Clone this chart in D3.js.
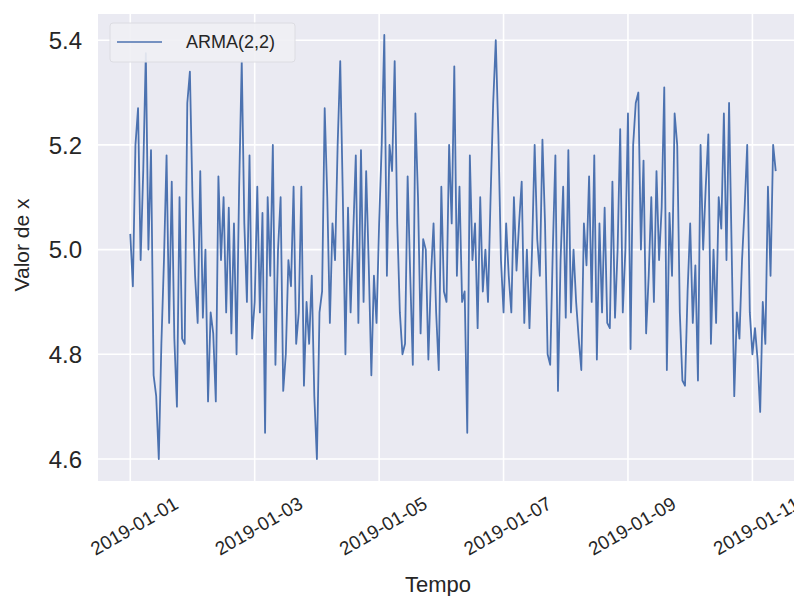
<!DOCTYPE html>
<html>
<head>
<meta charset="utf-8">
<script src="https://cdn.jsdelivr.net/npm/d3@7"></script>
<style>
    body { margin: 0; background: #ffffff; }
    text { font-family: "Liberation Sans", Arial, sans-serif; fill: #262626; }
</style>
</head>
<body>
<div class="chart"></div>
<script>
// hourly series, starting 2019-01-01 00:00
const startDate = "2019-01-01T00:00:00Z";
const seriesName = "ARMA(2,2)";
const values = [
    5.03, 4.93, 5.20, 5.27, 4.98, 5.15, 5.375, 5.00, 5.19, 4.76, 4.72, 4.60, 4.82, 4.98, 5.18, 4.86, 5.13, 4.83, 4.70, 5.10, 4.83, 4.82, 5.28, 5.34,
    5.10, 4.95, 4.86, 5.15, 4.87, 5.00, 4.71, 4.88, 4.84, 4.71, 5.14, 4.98, 5.10, 4.88, 5.08, 4.84, 5.05, 4.80, 5.12, 5.36, 5.05, 4.90, 5.18, 4.83,
    4.90, 5.12, 4.88, 5.07, 4.65, 5.10, 4.95, 5.20, 4.78, 5.00, 5.10, 4.73, 4.80, 4.98, 4.93, 5.12, 4.82, 4.88, 5.12, 4.74, 4.90, 4.82, 4.95, 4.72, 4.60,
    4.88, 4.92, 5.27, 5.10, 4.86, 5.05, 4.98, 5.20, 5.36, 5.10, 4.80, 5.08, 4.88, 5.03, 5.18, 4.86, 5.19, 4.90, 5.15, 4.97, 4.76, 4.95, 4.86, 5.05, 5.20,
    5.41, 4.95, 5.20, 5.15, 5.36, 5.05, 4.88, 4.80, 4.82, 5.14, 4.95, 4.78, 5.26, 5.10, 4.84, 5.02, 5.00, 4.79, 4.95, 5.05, 4.88, 4.77, 5.12, 4.92,
    4.90, 5.20, 5.05, 5.35, 4.95, 5.12, 4.90, 4.92, 4.65, 5.18, 4.98, 5.05, 4.85, 5.10, 4.92, 5.00, 4.90, 5.10, 5.28, 5.40, 5.22, 4.98, 4.88, 5.05, 4.95, 4.88,
    5.10, 4.96, 5.05, 5.13, 4.86, 5.00, 4.85, 5.00, 5.20, 5.02, 4.95, 5.21, 5.05, 4.80, 4.78, 5.00, 5.18, 4.73, 4.98, 5.12, 4.87, 5.19, 4.88, 5.00, 4.90,
    4.83, 4.77, 5.05, 4.97, 5.14, 4.90, 5.18, 4.79, 5.05, 4.88, 5.08, 4.86, 4.85, 5.13, 4.87, 5.00, 5.23, 4.88, 5.00, 5.26, 4.81, 5.20, 5.28, 5.30, 5.00,
    5.17, 4.84, 4.95, 5.10, 4.90, 5.15, 4.98, 5.08, 5.31, 4.77, 5.07, 4.95, 5.26, 5.20, 4.88, 4.75, 4.74, 4.92, 5.05, 4.86, 4.97, 4.75, 5.20, 5.00, 5.12,
    5.22, 4.82, 5.00, 4.86, 5.10, 5.04, 5.26, 4.98, 5.28, 5.00, 4.72, 4.88, 4.83, 4.98, 5.08, 5.20, 4.88, 4.80, 4.85, 4.79, 4.69, 4.90, 4.82, 5.12, 4.95, 5.20, 5.15
];
const yTicks = [4.6, 4.8, 5.0, 5.2, 5.4];
const xTickLabels = ["2019-01-01", "2019-01-03", "2019-01-05", "2019-01-07", "2019-01-09", "2019-01-11"];

const width = 794;
const height = 596;
const plot = { left: 98, right: 808, top: 14, bottom: 481 };

const t0 = new Date(startDate);
const hour = 3600 * 1000;
const data = values.map((v, i) => ({ date: new Date(t0.getTime() + i * hour), value: v }));

const svg = d3.select('.chart')
    .append('svg')
    .attr('width', width)
    .attr('height', height);

// matplotlib style 5% margins around the data
const span = (data.length - 1) * hour;
const xScale = d3.scaleUtc()
    .domain([new Date(t0.getTime() - 0.05 * span), new Date(t0.getTime() + 1.05 * span)])
    .range([plot.left, plot.right]);
const yScale = d3.scaleLinear()
    .domain([4.558, 5.45])
    .range([plot.bottom, plot.top]);

svg.append('rect')
    .attr('x', plot.left)
    .attr('y', plot.top)
    .attr('width', plot.right - plot.left)
    .attr('height', plot.bottom - plot.top)
    .attr('fill', '#EAEAF2');

svg.append('clipPath').attr('id', 'plot-clip')
    .append('rect')
    .attr('x', plot.left)
    .attr('y', plot.top)
    .attr('width', plot.right - plot.left)
    .attr('height', plot.bottom - plot.top);

const xTickDates = xTickLabels.map(d => new Date(d + "T00:00:00Z"));

// grid
svg.append('g')
    .selectAll('line')
    .data(yTicks).enter()
    .append('line')
    .attr('x1', plot.left).attr('x2', plot.right)
    .attr('y1', d => yScale(d)).attr('y2', d => yScale(d))
    .attr('stroke', '#ffffff')
    .attr('stroke-width', 1.6);

svg.append('g')
    .selectAll('line')
    .data(xTickDates).enter()
    .append('line')
    .attr('x1', d => xScale(d)).attr('x2', d => xScale(d))
    .attr('y1', plot.top).attr('y2', plot.bottom)
    .attr('stroke', '#ffffff')
    .attr('stroke-width', 1.6);

// series
const line = d3.line()
    .x(d => xScale(d.date))
    .y(d => yScale(d.value));

svg.append('path')
    .datum(data)
    .attr('clip-path', 'url(#plot-clip)')
    .attr('fill', 'none')
    .attr('stroke', '#4C72B0')
    .attr('stroke-width', 1.8)
    .attr('stroke-linejoin', 'round')
    .attr('d', line);

// y tick labels
svg.append('g')
    .selectAll('text')
    .data(yTicks).enter()
    .append('text')
    .attr('x', 82)
    .attr('y', d => yScale(d))
    .attr('dy', '0.36em')
    .attr('text-anchor', 'end')
    .style('font-size', '24px')
    .text(d => d.toFixed(1));

// x tick labels, rotated
svg.append('g')
    .selectAll('text')
    .data(xTickDates).enter()
    .append('text')
    .attr('transform', d => `translate(${xScale(d) + 4}, 526) rotate(-30)`)
    .attr('text-anchor', 'middle')
    .attr('dy', '0.35em')
    .style('font-size', '19px')
    .text((d, i) => xTickLabels[i]);

// axis titles
svg.append('text')
    .attr('x', 438)
    .attr('y', 592)
    .attr('text-anchor', 'middle')
    .style('font-size', '22px')
    .text('Tempo');

svg.append('text')
    .attr('transform', `translate(29, 245) rotate(-90)`)
    .attr('text-anchor', 'middle')
    .style('font-size', '21px')
    .text('Valor de x');

// legend
const legend = svg.append('g');
legend.append('rect')
    .attr('x', 110).attr('y', 23)
    .attr('width', 185).attr('height', 39)
    .attr('rx', 3)
    .attr('fill', '#EFEFF4')
    .attr('fill-opacity', 0.9)
    .attr('stroke', '#DCDCE2');
legend.append('line')
    .attr('x1', 117).attr('x2', 162)
    .attr('y1', 42).attr('y2', 42)
    .attr('stroke', '#4C72B0')
    .attr('stroke-width', 1.5);
legend.append('text')
    .attr('x', 186)
    .attr('y', 42)
    .attr('dy', '0.35em')
    .style('font-size', '18px')
    .text(seriesName);
</script>
</body>
</html>
